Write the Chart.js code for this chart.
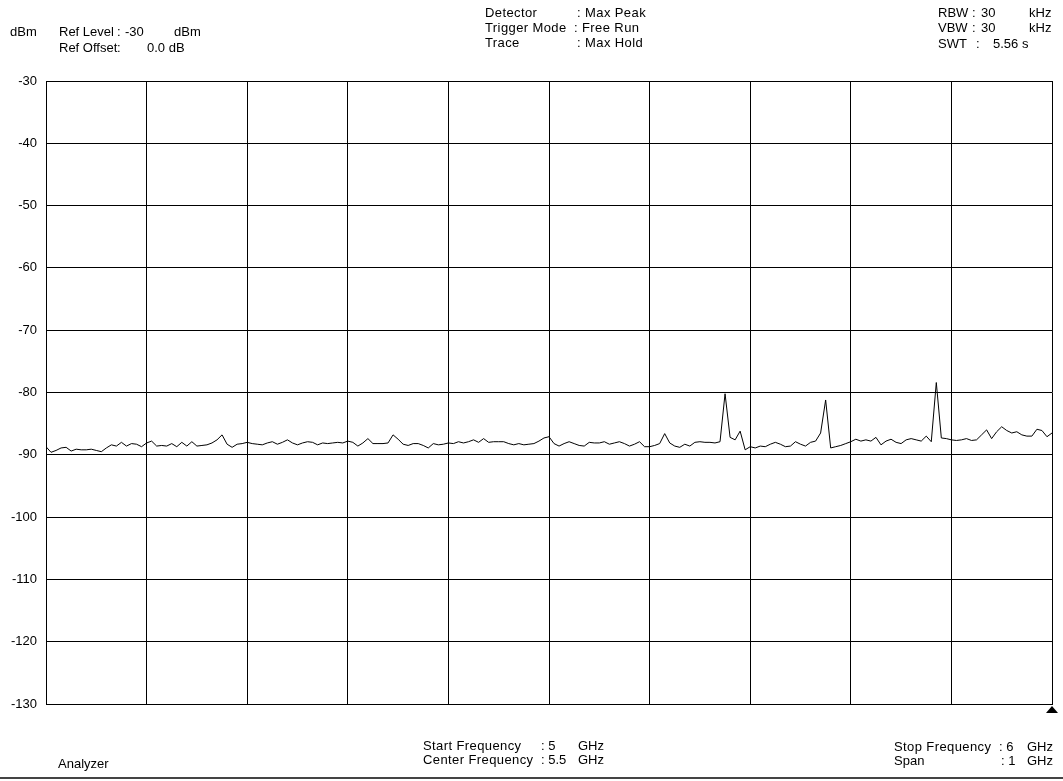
<!DOCTYPE html>
<html>
<head>
<meta charset="utf-8">
<script src="https://cdn.jsdelivr.net/npm/chart.js@4.4.1/dist/chart.umd.min.js"></script>
<style>
  body { margin: 0; background: #fff; }
  #wrap { position: relative; width: 1063px; height: 781px; overflow: hidden;
          font-family: "Liberation Sans", Arial, sans-serif; font-size: 13px; color: #000; }
  #spec { position: absolute; left: 0; top: 0; }
  .t { position: absolute; white-space: pre; line-height: 14px; }
  .w { letter-spacing: 0.4px; }
  #rule { position: absolute; left: 0; top: 777px; width: 1063px; height: 2px; background: #444; }
</style>
</head>
<body>
<div id="wrap">
  <canvas id="spec" width="1063" height="781"></canvas>

  <!-- header, left -->
  <div class="t" style="left:10px;top:25px">dBm</div>
  <div class="t" style="left:59px;top:25px">Ref Level</div>
  <div class="t" style="left:117px;top:25px">:</div>
  <div class="t" style="left:125px;top:25px">-30</div>
  <div class="t" style="left:174px;top:25px">dBm</div>
  <div class="t" style="left:59px;top:41px">Ref Offset</div>
  <div class="t" style="left:117px;top:41px">:</div>
  <div class="t" style="left:147px;top:41px">0.0 dB</div>

  <!-- header, centre -->
  <div class="t w" style="left:485px;top:6px">Detector</div>
  <div class="t w" style="left:577px;top:6px">: Max Peak</div>
  <div class="t w" style="left:485px;top:21px">Trigger Mode</div>
  <div class="t w" style="left:574px;top:21px">: Free Run</div>
  <div class="t w" style="left:485px;top:36px">Trace</div>
  <div class="t w" style="left:577px;top:36px">: Max Hold</div>

  <!-- header, right -->
  <div class="t" style="left:938px;top:6px">RBW</div>
  <div class="t" style="left:972px;top:6px">:</div>
  <div class="t" style="left:981px;top:6px">30</div>
  <div class="t" style="left:1029px;top:6px">kHz</div>
  <div class="t" style="left:938px;top:21px">VBW</div>
  <div class="t" style="left:972px;top:21px">:</div>
  <div class="t" style="left:981px;top:21px">30</div>
  <div class="t" style="left:1029px;top:21px">kHz</div>
  <div class="t" style="left:938px;top:37px">SWT</div>
  <div class="t" style="left:976px;top:37px">:</div>
  <div class="t" style="left:993px;top:37px">5.56 s</div>

  <!-- footer -->
  <div class="t" style="left:58px;top:757px">Analyzer</div>
  <div class="t w" style="left:423px;top:739px">Start Frequency</div>
  <div class="t" style="left:541px;top:739px">: 5</div>
  <div class="t" style="left:578px;top:739px">GHz</div>
  <div class="t w" style="left:423px;top:753px">Center Frequency</div>
  <div class="t" style="left:541px;top:753px">: 5.5</div>
  <div class="t" style="left:578px;top:753px">GHz</div>
  <div class="t w" style="left:894px;top:740px">Stop Frequency</div>
  <div class="t" style="left:999px;top:740px">: 6</div>
  <div class="t" style="left:1027px;top:740px">GHz</div>
  <div class="t" style="left:894px;top:754px">Span</div>
  <div class="t" style="left:1001px;top:754px">: 1</div>
  <div class="t" style="left:1027px;top:754px">GHz</div>

  <div id="rule"></div>
</div>

<script>
// sweep: 5 GHz .. 6 GHz, values in MHz
const startFreq = 5000;
const stopFreq = 6000;
const freqDivs = 10;

// reference level / scale (dBm)
const levelTicks = [-30, -40, -50, -60, -70, -80, -90, -100, -110, -120, -130];

// Max Hold trace, dBm, one point every 5 MHz (201 sweep points)
const traceLevels = [
    // 5.0 - 5.1 GHz
    -88.7, -89.6, -89.3, -88.9, -88.8, -89.4, -89.1, -89.2, -89.2, -89.1,
    -89.3, -89.5, -88.9, -88.4, -88.6, -88.0, -88.6, -88.2, -88.3, -88.7,
    // 5.1 - 5.2
    -88.1, -87.8, -88.6, -88.5, -88.6, -88.2, -88.7, -88.0, -88.6, -87.9,
    -88.6, -88.5, -88.4, -88.1, -87.6, -86.8, -88.3, -88.8, -88.3, -88.2,
    // 5.2 - 5.3
    -88.0, -88.2, -88.3, -88.4, -88.1, -87.9, -88.3, -88.0, -87.6, -88.1,
    -88.4, -88.1, -87.9, -88.0, -88.4, -88.1, -88.2, -88.1, -88.0, -88.1,
    // 5.3 - 5.4
    -87.8, -88.0, -88.6, -88.1, -87.4, -88.2, -88.2, -88.2, -88.1, -86.8,
    -87.5, -88.3, -88.5, -88.2, -88.2, -88.5, -88.9, -88.2, -88.4, -88.3,
    // 5.4 - 5.5
    -88.1, -88.2, -87.9, -88.1, -87.9, -87.6, -88.0, -87.4, -88.0, -87.9,
    -87.9, -87.9, -88.2, -88.4, -88.2, -88.4, -88.3, -88.2, -87.8, -87.3,
    // 5.5 - 5.6
    -87.1, -88.2, -88.6, -88.2, -87.9, -88.2, -88.5, -88.6, -88.0, -88.1,
    -88.1, -87.9, -88.3, -88.1, -87.9, -88.2, -88.6, -88.3, -87.9, -88.7,
    // 5.6 - 5.7
    -88.7, -88.5, -88.2, -86.6, -88.1, -88.6, -88.8, -88.3, -88.6, -88.0,
    -87.9, -88.0, -88.0, -88.1, -87.9, -80.2, -87.2, -87.6, -86.2, -89.2,
    // 5.7 - 5.8
    -88.7, -88.9, -88.6, -88.7, -88.3, -88.0, -88.3, -88.7, -88.6, -87.9,
    -88.3, -88.6, -88.0, -87.8, -86.5, -81.2, -88.9, -88.7, -88.5, -88.2,
    // 5.8 - 5.9
    -87.9, -87.5, -87.8, -87.6, -87.8, -87.2, -88.4, -87.8, -87.5, -88.0,
    -88.2, -87.6, -87.4, -87.6, -87.8, -87.0, -87.9, -78.4, -87.3, -87.4,
    // 5.9 - 6.0
    -87.6, -87.7, -87.6, -87.4, -87.7, -87.6, -86.8, -86.0, -87.4, -86.3,
    -85.5, -86.1, -86.5, -86.3, -86.8, -87.0, -87.0, -85.9, -86.1, -87.1,
    -86.5
];

const tracePoints = traceLevels.map((v, i) => ({
    x: startFreq + i * (stopFreq - startFreq) / (traceLevels.length - 1),
    y: v
}));

// small filled triangle under the right end of the sweep
const sweepMarker = {
    id: 'sweepMarker',
    afterDraw(chart) {
        const { ctx, chartArea } = chart;
        const x = chartArea.right, y = chartArea.bottom;
        ctx.save();
        ctx.fillStyle = '#000';
        ctx.beginPath();
        ctx.moveTo(x, y + 2);
        ctx.lineTo(x - 6, y + 9);
        ctx.lineTo(x + 6, y + 9);
        ctx.closePath();
        ctx.fill();
        ctx.restore();
    }
};

new Chart(document.getElementById('spec'), {
    type: 'line',
    data: {
        datasets: [{
            label: 'Trace',
            data: tracePoints,
            borderColor: '#000',
            borderWidth: 1,
            pointRadius: 0,
            tension: 0,
            fill: false
        }]
    },
    options: {
        responsive: false,
        animation: false,
        layout: { padding: { top: 81, right: 11, bottom: 77, left: 0 } },
        plugins: {
            legend: { display: false },
            tooltip: { enabled: false }
        },
        scales: {
            x: {
                type: 'linear',
                min: startFreq,
                max: stopFreq,
                afterFit: (s) => { s.height = 0; },
                ticks: { display: false, stepSize: (stopFreq - startFreq) / freqDivs },
                grid: { color: '#000', lineWidth: 1, drawTicks: false },
                border: { color: '#000', width: 1 }
            },
            y: {
                type: 'linear',
                min: levelTicks[levelTicks.length - 1],
                max: levelTicks[0],
                afterFit: (s) => { s.width = 46; },
                afterBuildTicks: (s) => { s.ticks = levelTicks.map(v => ({ value: v })); },
                ticks: {
                    color: '#000',
                    padding: 9,
                    font: { family: '"Liberation Sans", Arial, sans-serif', size: 13 }
                },
                grid: { color: '#000', lineWidth: 1, drawTicks: false },
                border: { color: '#000', width: 1 }
            }
        }
    },
    plugins: [sweepMarker]
});
</script>
</body>
</html>
